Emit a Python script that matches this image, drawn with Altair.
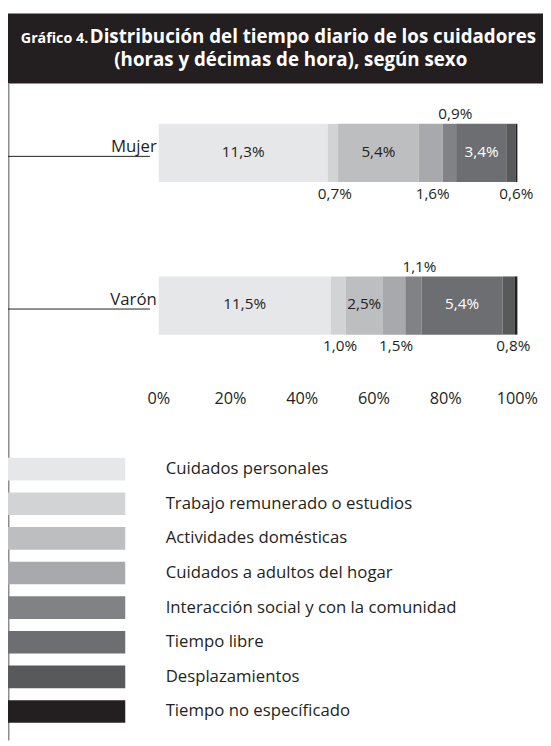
import altair as alt
import pandas as pd

# ---- data ----
categories = [
    "Cuidados personales",
    "Trabajo remunerado o estudios",
    "Actividades domésticas",
    "Cuidados a adultos del hogar",
    "Interacción social y con la comunidad",
    "Tiempo libre",
    "Desplazamientos",
    "Tiempo no específicado",
]
colors = ["#e6e7e8", "#d1d3d4", "#bcbec0", "#a7a9ac", "#808285", "#6d6e71", "#58595b", "#231f20"]
sexos = ["Mujer", "Varón"]
mujer = [11.3, 0.7, 5.4, 1.6, 0.9, 3.4, 0.6, 0.1]
varon = [11.5, 1.0, 2.5, 1.5, 1.1, 5.4, 0.8, 0.2]
ticks = [0, 0.2, 0.4, 0.6, 0.8, 1.0]

title_prefix = "Gráfico 4."
title_line1 = "Distribución del tiempo diario de los cuidadores"
title_line2 = "(horas y décimas de hora), según sexo"

rows = []
for s, vals in zip(sexos, [mujer, varon]):
    for i, (c, v) in enumerate(zip(categories, vals)):
        rows.append({"sexo": s, "cat": c, "order": i, "v": v})
df = pd.DataFrame(rows)

FONT = "Open Sans"
DARK = "#231f20"
W, H = 543, 738

xscale = alt.Scale(domain=[0, 1], range=[153, 517])
yscale = alt.Scale(type="band", domain=sexos, range=[112, 326], paddingInner=0.619, paddingOuter=0)
cscale = alt.Scale(domain=categories, range=colors)

base = (
    alt.Chart(df)
    .transform_stack(stack="v", groupby=["sexo"], sort=[alt.SortField("order")], as_=["s0", "s1"])
    .transform_joinaggregate(total="sum(v)", groupby=["sexo"])
    .transform_calculate(
        x0="datum.s0 / datum.total",
        x1="datum.s1 / datum.total",
        mid="(datum.s0 + datum.s1) / 2 / datum.total",
        lab="replace(format(datum.v, '.1f'), '.', ',') + '%'",
    )
)

bars = base.mark_bar().encode(
    x=alt.X("x0:Q", scale=xscale, axis=None),
    x2="x1:Q",
    y=alt.Y("sexo:N", scale=yscale, axis=None),
    color=alt.Color("cat:N", scale=cscale, legend=None),
)

inside = base.transform_filter("datum.v >= 2").mark_text(
    font=FONT, fontSize=15.5, baseline="middle", dy=-1
).encode(
    x=alt.X("mid:Q", scale=xscale, axis=None),
    y=alt.Y("sexo:N", scale=yscale, axis=None, bandPosition=0.5),
    text="lab:N",
    color=alt.condition("datum.cat == 'Tiempo libre'", alt.value("white"), alt.value(DARK)),
)

above = base.transform_filter(
    alt.FieldOneOfPredicate(field="cat", oneOf=[categories[4]])
).mark_text(font=FONT, fontSize=15.5, baseline="middle", dy=-10, dx=6, color=DARK).encode(
    x=alt.X("mid:Q", scale=xscale, axis=None),
    y=alt.Y("sexo:N", scale=yscale, axis=None, bandPosition=0),
    text="lab:N",
)

below = base.transform_filter(
    alt.FieldOneOfPredicate(field="cat", oneOf=[categories[1], categories[3]])
).mark_text(font=FONT, fontSize=15.5, baseline="middle", dy=12, dx=2, color=DARK).encode(
    x=alt.X("mid:Q", scale=xscale, axis=None),
    y=alt.Y("sexo:N", scale=yscale, axis=None, bandPosition=1),
    text="lab:N",
)

below_end = base.transform_filter(
    alt.FieldOneOfPredicate(field="cat", oneOf=[categories[6]])
).mark_text(font=FONT, fontSize=15.5, baseline="middle", dy=12, dx=5, color=DARK).encode(
    x=alt.X("mid:Q", scale=xscale, axis=None),
    y=alt.Y("sexo:N", scale=yscale, axis=None, bandPosition=1),
    text="lab:N",
)

tick_labels = alt.Chart(pd.DataFrame({"t": ticks})).mark_text(
    font=FONT, fontSize=16.5, baseline="middle", color=DARK
).encode(
    x=alt.X("t:Q", scale=xscale, axis=None),
    y=alt.value(391),
    text=alt.Text("t:Q", format=".0%"),
)

sex_df = pd.DataFrame({"sexo": sexos})
cat_labels = alt.Chart(sex_df).mark_text(
    font=FONT, fontSize=17, align="right", baseline="alphabetic", dy=-1, color=DARK
).encode(
    x=alt.value(151),
    y=alt.Y("sexo:N", scale=yscale, axis=None, bandPosition=0.5),
    text="sexo:N",
)
cat_rules = alt.Chart(sex_df).mark_rule(color=DARK, strokeWidth=1).encode(
    x=alt.value(0),
    x2=alt.value(144),
    y=alt.Y("sexo:N", scale=yscale, axis=None, bandPosition=0.56),
)

# legend
lyscale = alt.Scale(type="band", domain=categories, range=[451, 720], paddingInner=0.345, paddingOuter=0)
leg_df = pd.DataFrame({"cat": categories})
leg_rect = alt.Chart(leg_df).mark_rect().encode(
    x=alt.value(0),
    x2=alt.value(119),
    y=alt.Y("cat:N", scale=lyscale, axis=None),
    color=alt.Color("cat:N", scale=cscale, legend=None),
)
leg_text = alt.Chart(leg_df).mark_text(
    font=FONT, fontSize=17, align="left", baseline="middle", color=DARK
).encode(
    x=alt.value(160),
    y=alt.Y("cat:N", scale=lyscale, axis=None, bandPosition=0.5),
    text="cat:N",
)

# title band and frame
one = pd.DataFrame({"a": [0]})
band = alt.Chart(one).mark_rect(color=DARK).encode(
    x=alt.value(0), x2=alt.value(W), y=alt.value(0), y2=alt.value(71)
)
frame = alt.Chart(one).mark_rule(color="#8c8c8c", strokeWidth=1.5).encode(
    x=alt.value(0.75), y=alt.value(71), y2=alt.value(H)
)
t_prefix = alt.Chart(one).mark_text(
    font=FONT, fontSize=14.5, fontWeight="bold", color="white", align="left", baseline="alphabetic"
).encode(x=alt.value(13), y=alt.value(30), text=alt.value(title_prefix))
t_line1 = alt.Chart(one).mark_text(
    font=FONT, fontSize=19, fontWeight="bold", color="white", align="left", baseline="alphabetic"
).encode(x=alt.value(83), y=alt.value(30), text=alt.value(title_line1))
t_line2 = alt.Chart(one).mark_text(
    font=FONT, fontSize=19, fontWeight="bold", color="white", align="center", baseline="alphabetic"
).encode(x=alt.value(287), y=alt.value(53), text=alt.value(title_line2))

chart = (
    alt.layer(
        band, frame, t_prefix, t_line1, t_line2,
        bars, inside, above, below, below_end, tick_labels,
        cat_rules, cat_labels, leg_rect, leg_text,
    )
    .resolve_scale(y="independent")
    .properties(width=W, height=H, autosize=alt.AutoSizeParams(type="none"), padding=0, background="white")
    .configure_view(stroke=None)
)

chart.save("out.html", embed_options={"renderer": "svg", "actions": False})
